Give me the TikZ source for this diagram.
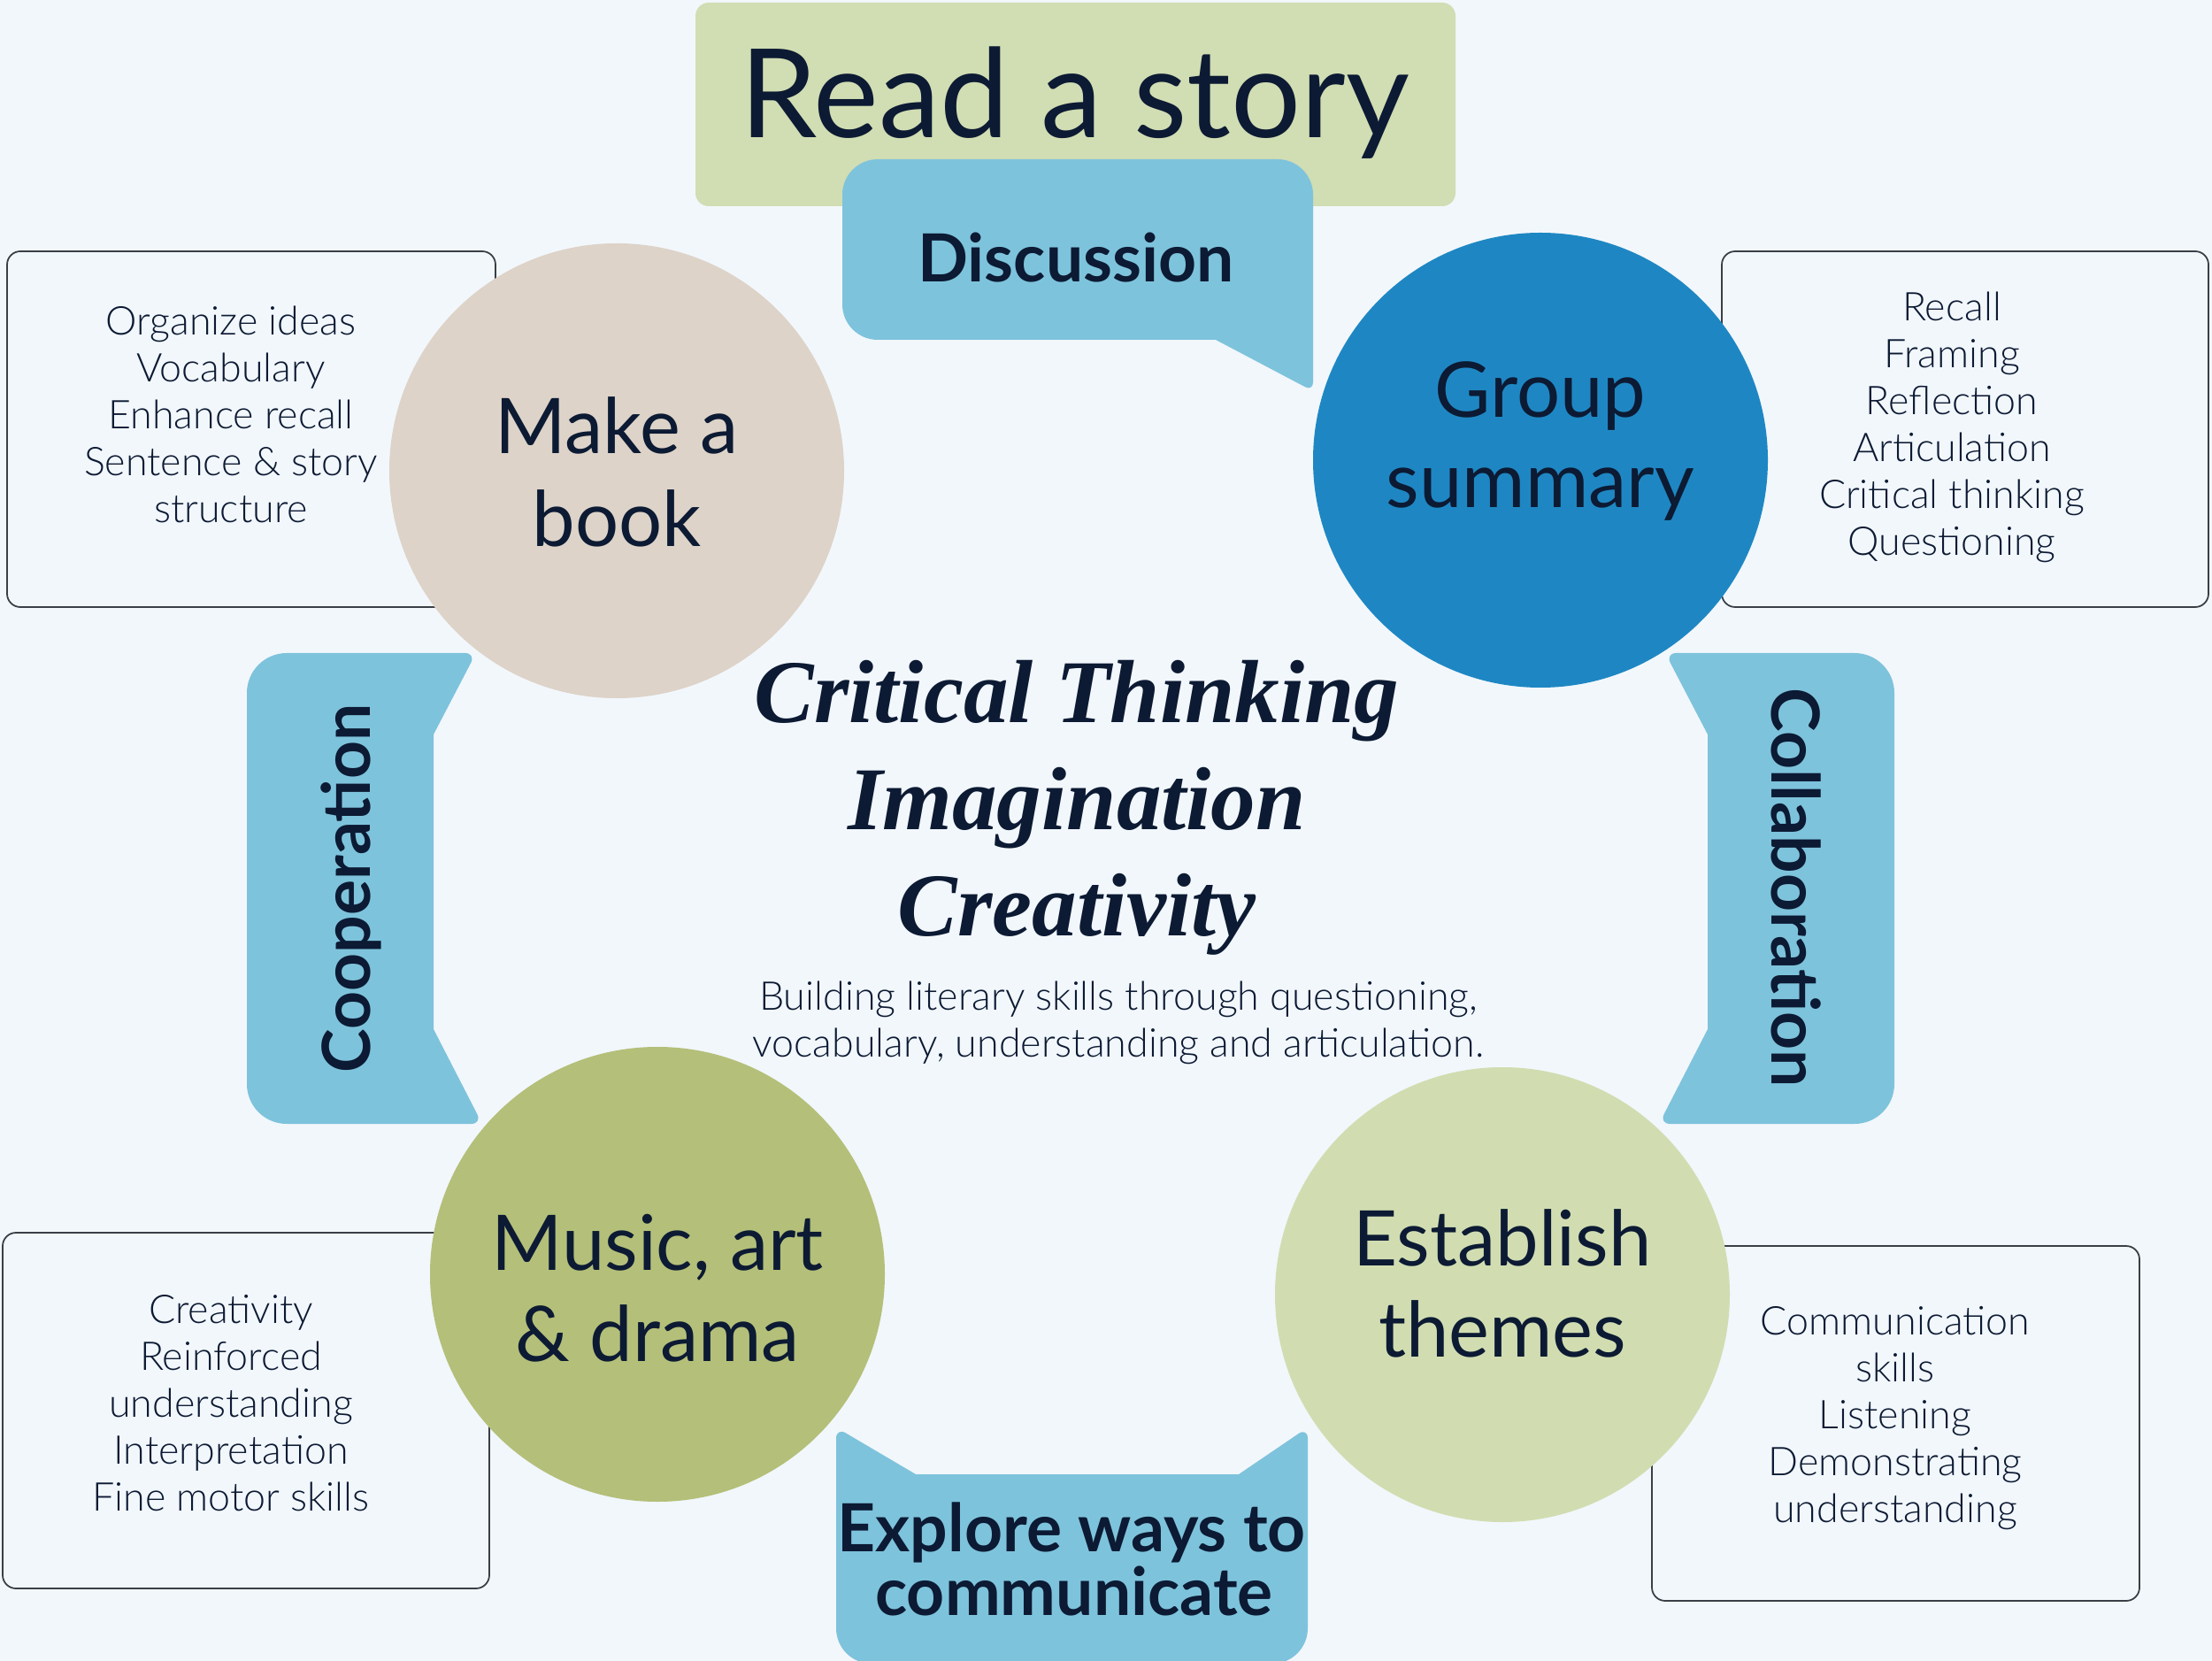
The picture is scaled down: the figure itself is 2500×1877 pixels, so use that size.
\documentclass[tikz,border=0pt]{standalone}
\usepackage{fontspec}
\setmainfont{Lato}
\newfontfamily\lightfont{Lato Light}
\newfontfamily\serifit{Liberation Serif}
\definecolor{bg}{HTML}{F2F7FC}
\definecolor{readbox}{HTML}{D1DDB3}
\definecolor{bubble}{HTML}{7EC3DC}
\definecolor{groupc}{HTML}{1E87C3}
\definecolor{bookc}{HTML}{DDD3C8}
\definecolor{musicc}{HTML}{B4BF79}
\definecolor{themec}{HTML}{D1DDB1}
\definecolor{ink}{HTML}{0C1A33}
\definecolor{boxline}{HTML}{3A3F47}
\tikzset{
  skillbox/.style={draw=boxline, line width=0.7pt, rounded corners=6pt, fill=bg},
  bigcircle/.style={circle, minimum size=205.6pt, inner sep=0pt},
  circtxt/.style={text=ink, font=\fontsize{34.7pt}{40pt}\selectfont, anchor=base, inner sep=0pt},
  bubtxt/.style={text=ink, font=\bfseries\fontsize{30pt}{36pt}\selectfont, anchor=base, inner sep=0pt},
  boxtxt/.style={text=ink, font=\lightfont\fontsize{17.9pt}{21pt}\selectfont, anchor=base, inner sep=0pt},
  ittxt/.style={text=ink, font=\serifit\bfseries\itshape\fontsize{40.5pt}{46pt}\selectfont, anchor=base, inner sep=0pt},
}
\begin{document}
\begin{tikzpicture}[x=0.4pt,y=-0.4pt]
\useasboundingbox (0,0) rectangle (2500,1877);
\fill[bg] (0,0) rectangle (2500,1877);

% skill boxes
\draw[skillbox] (8,284) rectangle (560,686);
\draw[skillbox] (1946,284) rectangle (2496,686);
\draw[skillbox] (3,1393) rectangle (553,1795);
\draw[skillbox] (1867,1408) rectangle (2418,1809);

% circles
\node[bigcircle, fill=bookc] (book) at (697,532) {};
\node[bigcircle, fill=groupc] (group) at (1741,520) {};
\node[bigcircle, fill=musicc] (music) at (743,1440) {};
\node[bigcircle, fill=themec] (theme) at (1698,1463) {};

% read a story
\fill[readbox, rounded corners=6pt] (786,3) rectangle (1645,233);

% bubbles (rounding at a corner is set by the option before the segment that reaches it)
\fill[bubble] (952,282) [rounded corners=16pt] -- (952,180) -- (1484,180) [rounded corners=4pt] -- (1484,442) [sharp corners] -- (1374,384) [rounded corners=16pt] -- (952,384) -- cycle;
\fill[bubble] (279,1000) [rounded corners=18pt] -- (279,738) [rounded corners=5pt] -- (538,738) [sharp corners] -- (490,830) -- (490,1163) [rounded corners=5pt] -- (545,1270) [rounded corners=18pt] -- (279,1270) -- cycle;
\fill[bubble] (2141,1000) [rounded corners=18pt] -- (2141,738) [rounded corners=5pt] -- (1882,738) [sharp corners] -- (1930,830) -- (1930,1163) [rounded corners=5pt] -- (1875,1270) [rounded corners=18pt] -- (2141,1270) -- cycle;
\fill[bubble] (945,1760) [rounded corners=5pt] -- (945,1613) [sharp corners] -- (1035,1666) -- (1400,1666) [rounded corners=5pt] -- (1478,1613) [rounded corners=16pt] -- (1478,1880) -- (945,1880) -- cycle;

% texts
\node[text=ink, font=\fontsize{55.8pt}{60pt}\selectfont, anchor=base, inner sep=0pt] (read) at (1215,156) {Read a story};
\node[bubtxt] (disc) at (1216,319) {Discussion};
\node[bubtxt, rotate=90] (coop) at (418,1004) {Cooperation};
\node[bubtxt, rotate=-90] (collab) at (2002,1003) {Collaboration};
\node[bubtxt] (expl1) at (1211,1753) {Explore ways to};
\node[bubtxt] (expl2) at (1214,1825) {communicate};

\node[circtxt] (book1) at (697,513) {Make a};
\node[circtxt] (book2) at (697,618) {book};
\node[circtxt] (group1) at (1741,472) {Group};
\node[circtxt] (group2) at (1741,574) {summary};
\node[circtxt] (music1) at (743,1435) {Music, art};
\node[circtxt] (music2) at (743,1538) {\& drama};
\node[circtxt] (theme1) at (1698,1430) {Establish};
\node[circtxt] (theme2) at (1698,1533) {themes};

\node[ittxt] (it1) at (1217,816) {Critical Thinking};
\node[ittxt] (it2) at (1217,937) {Imagination};
\node[ittxt] (it3) at (1217,1057) {Creativity};
\node[boxtxt] (bl1) at (1264,1141) {Building literary skills through questioning,};
\node[boxtxt] (bl2) at (1264,1194) {vocabulary, understanding and articulation.};

\foreach \t [count=\i] in {Organize ideas,Vocabulary,Enhance recall,Sentence \& story,structure}
  \node[boxtxt] (lt\i) at (261,{379+(\i-1)*53}) {\t};
\foreach \t [count=\i] in {Recall,Framing,Reflection,Articulation,Critical thinking,Questioning}
  \node[boxtxt] (rt\i) at (2206,{363+(\i-1)*53}) {\t};
\foreach \t [count=\i] in {Creativity,Reinforced,understanding,Interpretation,Fine motor skills}
  \node[boxtxt] (lb\i) at (261,{1495+(\i-1)*53}) {\t};
\foreach \t [count=\i] in {Communication,skills,Listening,Demonstrating,understanding}
  \node[boxtxt] (rb\i) at (2142,{1508+(\i-1)*53}) {\t};
\end{tikzpicture}
\end{document}
